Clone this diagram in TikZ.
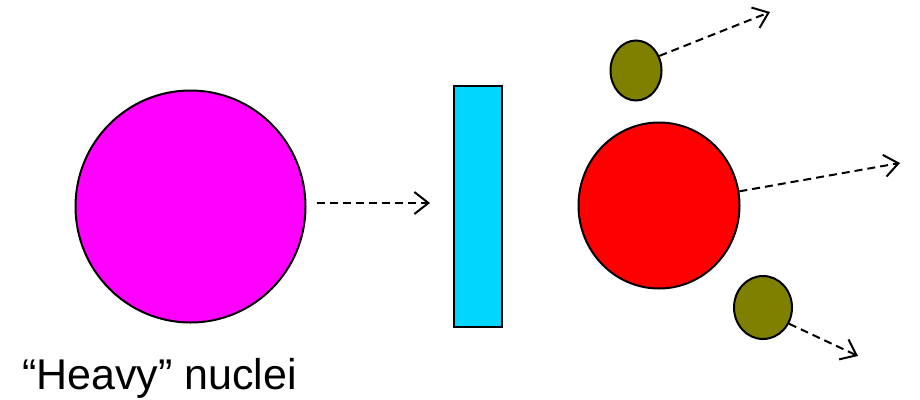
\documentclass[tikz,border=0pt]{standalone}
\usepackage{fontspec}
\setmainfont{Liberation Sans}
\usetikzlibrary{arrows.meta,shapes.geometric}
\definecolor{magentaA}{RGB}{255,0,255}
\definecolor{cyanA}{RGB}{0,214,255}
\definecolor{olive}{RGB}{128,128,0}
\begin{document}
\begin{tikzpicture}[x=1pt,y=-1pt,
  ball/.style={ellipse,draw=black,line width=2pt,inner sep=0pt},
  flight/.style={draw=black,line width=2pt,dash pattern=on 8pt off 5pt,
    -{Straight Barb[length=14pt,width=22pt,line width=2pt]}}]
\useasboundingbox (0,0) rectangle (920,399);
\node[ball,fill=magentaA,minimum width=230pt,minimum height=232pt] (heavy) at (190.5,206.5) {};
\node[draw=black,line width=2pt,fill=cyanA,minimum width=48pt,minimum height=241pt,inner sep=0pt] (target) at (477.5,206) {};
\node[ball,fill=red,minimum width=161pt,minimum height=166pt] (core) at (659,205.5) {};
\node[ball,fill=olive,minimum width=51pt,minimum height=60pt] (frag1) at (636,70.5) {};
\node[ball,fill=olive,minimum width=58pt,minimum height=63pt] (frag2) at (763,307.5) {};
\coordinate (e0) at (430,203);
\coordinate (e1) at (770,12);
\coordinate (e2) at (900,163);
\coordinate (e3) at (858,356);
\draw[flight] ([xshift=10pt]heavy.east |- e0) -- (e0);
\draw[flight] (frag1.32) -- (e1);
\draw[flight] (core.10) -- (e2);
\draw[flight] (frag2.-32) -- (e3);
\node[anchor=base west,inner sep=0pt,font=\fontsize{43}{46}\selectfont] (label) at (22,389) {“Heavy” nuclei};
\end{tikzpicture}
\end{document}
